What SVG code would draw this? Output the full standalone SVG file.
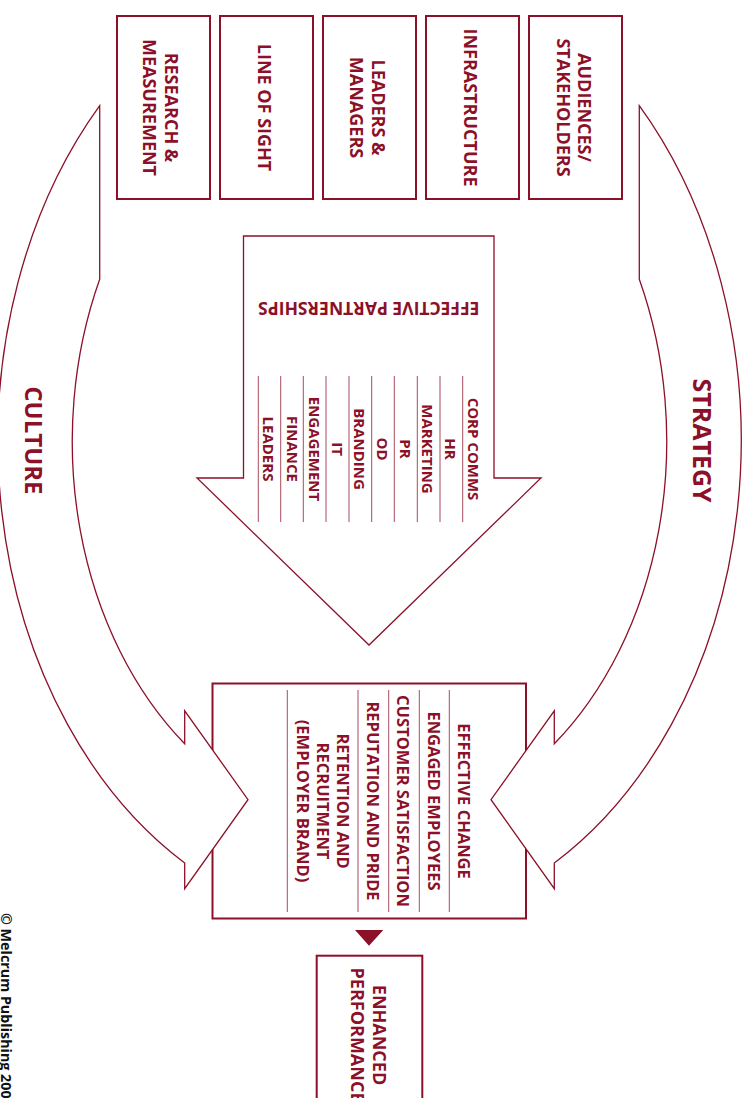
<svg xmlns="http://www.w3.org/2000/svg" width="752" height="1098" viewBox="0 0 752 1098">
<style>
.box{fill:#fff;stroke:#8B1028;stroke-width:2}
.arr{fill:#fff;stroke:#8B1028;stroke-width:1.3;stroke-linejoin:miter}
.rule{stroke:#8B1028;stroke-width:1;opacity:.75}
.t{font-family:"Open Sans","Liberation Sans",sans-serif;font-weight:700;fill:#8B1028;text-anchor:middle}
.b18{font-size:18px}
.b16{font-size:16.5px}
.b15{font-size:15px}
</style>
<rect width="752" height="1098" fill="#fff"/>

<g id="box-research">
<rect class="box" x="117" y="16" width="93" height="183"/>
<text class="t b18" transform="translate(165,107.5) rotate(90)">RESEARCH &amp;</text>
<text class="t b18" transform="translate(143.3,107.5) rotate(90)">MEASUREMENT</text>
</g>
<g id="box-lineofsight">
<rect class="box" x="220" y="16" width="93" height="183"/>
<text class="t b18" transform="translate(258,107.5) rotate(90)">LINE OF SIGHT</text>
</g>
<g id="box-leaders">
<rect class="box" x="323" y="16" width="93" height="183"/>
<text class="t b18" transform="translate(371.7,107.5) rotate(90)">LEADERS &amp;</text>
<text class="t b18" transform="translate(350,107.5) rotate(90)">MANAGERS</text>
</g>
<g id="box-infrastructure">
<rect class="box" x="426" y="16" width="93" height="183"/>
<text class="t b18" transform="translate(464,107.5) rotate(90)">INFRASTRUCTURE</text>
</g>
<g id="box-audiences">
<rect class="box" x="529" y="16" width="93" height="183"/>
<text class="t b18" transform="translate(578,107.5) rotate(90)">AUDIENCES/</text>
<text class="t b18" transform="translate(556.7,107.5) rotate(90)">STAKEHOLDERS</text>
</g>

<g id="partnerships">
<path class="arr" d="M243.5 236 H494 V478 H541 L369 645 L197 478 H243.5 Z" stroke-width="1.5"/>
<text class="t" font-size="17.5" transform="translate(368.8,301.7) rotate(180)">EFFECTIVE PARTNERSHIPS</text>
<g class="rule-set">
<line class="rule" x1="258.3" y1="376" x2="258.3" y2="522"/>
<line class="rule" x1="280.7" y1="376" x2="280.7" y2="522"/>
<line class="rule" x1="303.3" y1="376" x2="303.3" y2="522"/>
<line class="rule" x1="326" y1="376" x2="326" y2="522"/>
<line class="rule" x1="349" y1="376" x2="349" y2="522"/>
<line class="rule" x1="371.7" y1="376" x2="371.7" y2="522"/>
<line class="rule" x1="394.3" y1="376" x2="394.3" y2="522"/>
<line class="rule" x1="417.3" y1="376" x2="417.3" y2="522"/>
<line class="rule" x1="440" y1="376" x2="440" y2="522"/>
<line class="rule" x1="462.7" y1="376" x2="462.7" y2="522"/>
</g>
<text class="t b15" transform="translate(468.3,449) rotate(90)">CORP COMMS</text>
<text class="t b15" transform="translate(445,449) rotate(90)">HR</text>
<text class="t b15" transform="translate(422,449) rotate(90)">MARKETING</text>
<text class="t b15" transform="translate(400,449) rotate(90)">PR</text>
<text class="t b15" transform="translate(376.7,449) rotate(90)">OD</text>
<text class="t b15" transform="translate(354,449) rotate(90)">BRANDING</text>
<text class="t b15" transform="translate(331.7,449) rotate(90)">IT</text>
<text class="t b15" transform="translate(309,449) rotate(90)">ENGAGEMENT</text>
<text class="t b15" transform="translate(286.7,449) rotate(90)">FINANCE</text>
<text class="t b15" transform="translate(263.3,449) rotate(90)">LEADERS</text>
</g>

<g id="outcomes">
<rect class="box" x="212.5" y="683.5" width="313.5" height="235"/>
<line class="rule" x1="449.3" y1="690" x2="449.3" y2="912"/>
<line class="rule" x1="419.3" y1="690" x2="419.3" y2="912"/>
<line class="rule" x1="388.7" y1="690" x2="388.7" y2="912"/>
<line class="rule" x1="358" y1="690" x2="358" y2="912"/>
<line class="rule" x1="287.3" y1="690" x2="287.3" y2="912"/>
<text class="t b16" transform="translate(458.3,801) rotate(90)">EFFECTIVE CHANGE</text>
<text class="t b16" transform="translate(428.3,801) rotate(90)">ENGAGED EMPLOYEES</text>
<text class="t b16" transform="translate(396.7,801) rotate(90)">CUSTOMER SATISFACTION</text>
<text class="t b16" transform="translate(366.7,801) rotate(90)">REPUTATION AND PRIDE</text>
<text class="t b16" transform="translate(336.7,801) rotate(90)">RETENTION AND</text>
<text class="t b16" transform="translate(316.7,801) rotate(90)">RECRUITMENT</text>
<text class="t b16" transform="translate(296.5,801) rotate(90)">(EMPLOYER BRAND)</text>
</g>

<g id="enhanced-performance">
<rect class="box" x="316.7" y="955.7" width="105.6" height="170"/>
<text class="t b18" transform="translate(372.7,1035) rotate(90)">ENHANCED</text>
<text class="t b18" transform="translate(350.7,1035) rotate(90)">PERFORMANCE</text>
</g>

<g id="connectors">
<path id="strategy-arrow" class="arr" d="M639.3 105.7 L639.3 279.3 A297 386 0 0 1 554.3 743.8 L554.3 710.8 L491 799.7 L554.3 888.6 L554.3 863 A372 487 0 0 0 639.3 105.7 Z"/>
<text class="t" font-size="25px" transform="translate(693.3,440.5) rotate(90)">STRATEGY</text>
<path id="culture-arrow" class="arr" d="M99.7 105.7 L99.7 279.3 A297 386 0 0 0 184.7 743.8 L184.7 710.8 L248 799.7 L184.7 888.6 L184.7 863 A372 487 0 0 1 99.7 105.7 Z"/>
<text class="t" font-size="24px" transform="translate(25,440.4) rotate(90)">CULTURE</text>
<path id="to-performance" d="M355 930 H383.3 L369 945.7 Z" fill="#8B1028"/>
</g>

<text font-family="'Open Sans','Liberation Sans',sans-serif" font-weight="700" font-size="14.3" fill="#111" transform="translate(0.5,913) rotate(90)">© Melcrum Publishing 2005</text>
</svg>
